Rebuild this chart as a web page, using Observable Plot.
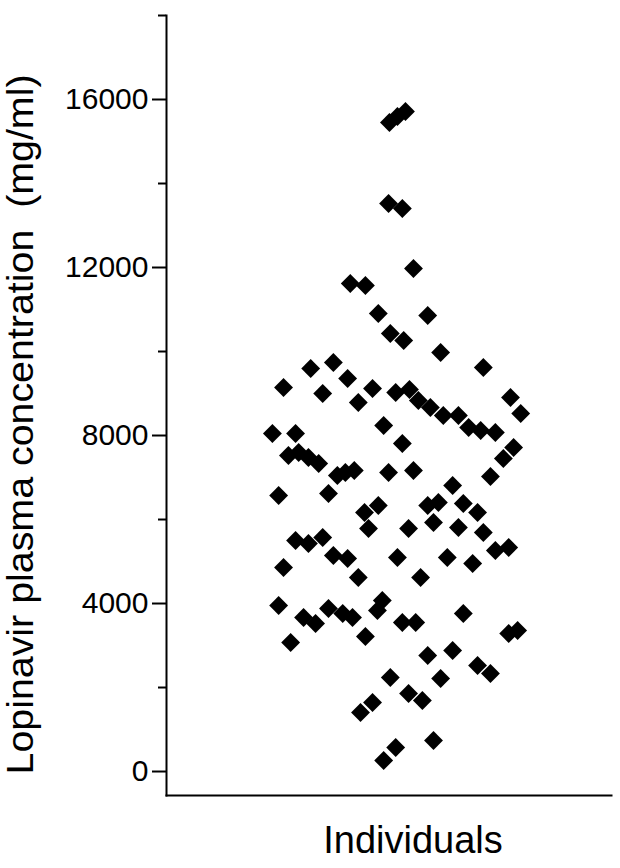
<!DOCTYPE html>
<html><head><meta charset="utf-8">
<script src="https://cdn.jsdelivr.net/npm/d3@7"></script>
<script src="https://cdn.jsdelivr.net/npm/@observablehq/plot@0.6"></script>
<style>body{margin:0;background:#fff}</style>
</head><body><div id="chart"></div>
<script>
// horizontal jitter position (0–100 across the frame) and concentration (mg/ml)
const jitter = [50.1,51.9,53.7,49.9,53.0,55.5,41.3,44.7,47.6,58.7,
50.3,53.3,61.6,32.4,37.5,40.7,26.3,35.1,71.2,46.3,
43.1,51.5,54.6,56.6,59.3,62.2,65.6,67.9,70.6,77.3,
79.6,73.9,23.8,29.0,48.8,53.0,27.4,29.7,31.9,34.2,
78.0,75.7,38.4,40.2,42.2,49.9,55.5,72.8,64.3,25.2,
36.4,44.5,47.6,45.4,54.4,58.7,61.1,60.0,66.7,69.9,
65.6,71.2,29.0,31.9,35.1,37.5,40.7,26.3,43.1,51.9,
57.1,63.1,68.8,73.9,76.9,25.2,30.8,33.5,36.4,39.6,
41.8,48.5,47.4,53.0,56.0,66.7,76.9,78.9,27.9,44.7,
58.7,64.3,69.9,72.8,50.3,61.6,54.4,57.5,43.6,46.3,
51.5,48.8,60.0];
const concentration = [15452,15595,15714,13524,13405,11976,11619,11571,10905,10857,
10429,10262,9976,9595,9738,9357,9143,9000,9619,9119,
8786,9024,9095,8833,8667,8476,8476,8190,8119,8905,
8524,8071,8048,8048,8238,7810,7524,7595,7476,7333,
7714,7452,7048,7119,7167,7119,7167,7024,6810,6571,
6619,6167,6333,5786,5786,6333,6405,5929,6381,6167,
5810,5690,5500,5429,5571,5143,5071,4857,4619,5095,
4619,5095,4952,5262,5333,3952,3667,3524,3881,3762,
3667,4071,3833,3548,3548,3762,3286,3357,3071,3214,
2762,2881,2524,2333,2238,2214,1857,1690,1405,1643,
571,262,738];
const majorTicks = [0, 4000, 8000, 12000, 16000];
const minorTicks = [2000, 6000, 10000, 14000, 18000];
const yLabel = "Lopinavir plasma concentration \u00a0(mg/ml)";
const xLabel = "Individuals";

const data = jitter.map((x, i) => ({x, y: concentration[i]}));

const chart = Plot.plot({
  width: 620, height: 868,
  marginLeft: 166, marginRight: 9, marginTop: 15, marginBottom: 73,
  style: {fontFamily: '"Liberation Sans", Arial, sans-serif', background: "#fff", color: "#000"},
  x: {domain: [0, 100], axis: null},
  y: {domain: [-571, 18000]},
  marks: [
    Plot.axisY({ticks: majorTicks, tickSize: 14, tickPadding: 4, fontSize: 30, strokeWidth: 2, label: null, tickFormat: d => String(d)}),
    Plot.axisY({ticks: minorTicks, tickSize: 8, strokeWidth: 2, label: null, tickFormat: () => ""}),
    Plot.frame({anchor: "left", strokeWidth: 2}),
    Plot.frame({anchor: "bottom", strokeWidth: 2}),
    Plot.dot(data, {x: "x", y: "y", symbol: "diamond2", r: 8.5, fill: "#000", stroke: "none"}),
    Plot.text([yLabel], {text: d => d, frameAnchor: "left", rotate: -90, dx: -145, dy: 19, fontSize: 36, lineAnchor: "middle", textAnchor: "middle"}),
    Plot.text([xLabel], {text: d => d, frameAnchor: "bottom", dx: 24, dy: 45, fontSize: 38, lineAnchor: "middle", textAnchor: "middle"})
  ]
});
chart.querySelectorAll("text").forEach(t => {
  if (t.textContent === yLabel) {
    t.setAttribute("textLength", 700);
    t.setAttribute("lengthAdjust", "spacingAndGlyphs");
  }
});
document.getElementById("chart").appendChild(chart);
</script>
</body></html>
